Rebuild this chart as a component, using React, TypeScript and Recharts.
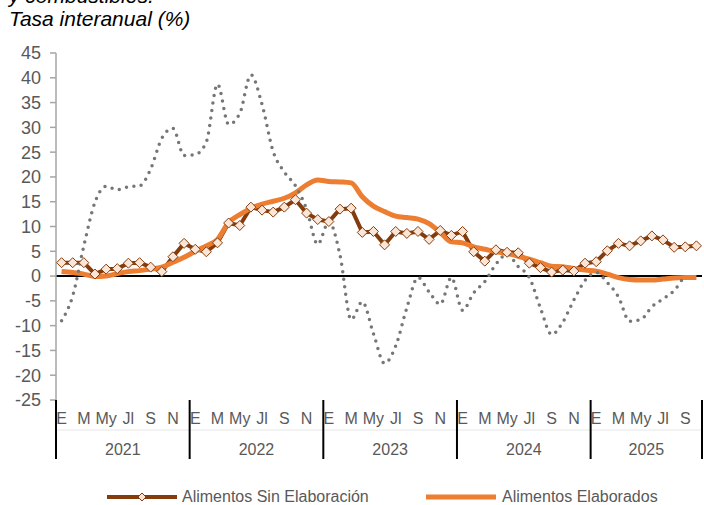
import { LineChart, Line, XAxis, YAxis, ReferenceLine } from "recharts"

const years = [2021, 2022, 2023, 2024, 2025]
const monthsPerYear = [12, 12, 12, 12, 10]
const monthLabels = ["E", "F", "M", "A", "My", "Jn", "Jl", "Ag", "S", "O", "N", "D"]
const yTicks = [-25, -20, -15, -10, -5, 0, 5, 10, 15, 20, 25, 30, 35, 40, 45]

const sinElaboracion = [
  2.7, 2.7, 2.7, 0.4, 1.4, 1.5, 2.6, 2.7, 1.8, 0.9, 3.9, 6.6,
  5.4, 4.9, 6.7, 10.7, 10.2, 13.9, 13.3, 12.9, 13.9, 15.4, 12.7, 11.4,
  11.0, 13.5, 13.7, 8.8, 9.0, 6.3, 9.0, 8.6, 9.0, 7.4, 9.2, 8.2,
  9.0, 4.9, 3.0, 5.3, 4.8, 4.7, 2.6, 1.7, 0.8, 1.2, 1.0, 2.6,
  2.9, 5.1, 6.6, 6.1, 7.1, 8.1, 7.3, 5.8, 5.9, 6.1,
]

const elaborados = [
  0.9, 0.7, 0.4, -0.1, 0.0, 0.5, 0.9, 1.1, 1.4, 1.8, 2.8, 3.8,
  5.0, 6.1, 7.4, 10.8, 12.4, 13.7, 14.5, 15.1, 15.7, 16.8, 18.4, 19.4,
  19.1, 19.0, 18.8, 16.0, 14.1, 13.0, 12.1, 11.8, 11.5, 10.6, 8.8, 6.9,
  6.7, 5.9, 5.4, 4.9, 4.6, 4.0, 3.4, 2.7, 2.0, 1.9, 1.5, 1.2,
  1.0, 0.4, -0.3, -0.7, -0.8, -0.8, -0.6, -0.4, -0.3, -0.3,
]

// serie gris punteada (sin leyenda en el original)
const energia = [
  -9.0, -4.0, 6.1, 14.9, 18.1, 17.4, 18.0, 18.2, 21.6, 27.8, 29.8, 24.3,
  24.5, 27.1, 38.7, 30.6, 32.8, 40.6, 34.6, 25.1, 21.0, 18.2, 13.5, 6.4,
  11.0, 4.2, -8.8, -5.2, -11.6, -17.6, -14.1, -6.4, -0.3, -3.2, -5.7, -0.3,
  -6.9, -3.4, -1.1, 2.4, 4.4, 1.9, -0.3, -6.5, -11.8, -9.3, -4.8, -0.9,
  0.7, -1.3, -4.2, -9.1, -8.8, -6.2, -4.6, -2.9, 0.3, null,
]

const periods = years.flatMap((year, k) =>
  monthLabels.slice(0, monthsPerYear[k]).map((_, month) => ({ year, month }))
)

const data = periods.map((p, i) => ({
  key: `${monthLabels[p.month]}-${p.year}`,
  year: p.year,
  month: p.month,
  sin: sinElaboracion[i],
  elab: elaborados[i],
  ener: energia[i],
}))

const W = 704
const H = 505
const Y_AXIS_W = 56
const MARGIN = { top: 53, right: 2, bottom: 45, left: 0 }
const BAND = (W - Y_AXIS_W - MARGIN.left - MARGIN.right) / data.length

const BROWN = "#843c0c"
const ORANGE = "#ed7d31"
const GRAY = "#767676"
const TEXT = "#595959"
const FONT = "'Liberation Sans', Arial, sans-serif"

function diamondPoints(cx: number, cy: number, r: number) {
  return `${cx},${cy - r} ${cx + r},${cy} ${cx},${cy + r} ${cx - r},${cy}`
}

function renderDiamond(props: any) {
  const { cx, cy, index } = props
  if (cx == null || cy == null) return <g key={`d-${index}`} />
  return (
    <polygon
      key={`d-${index}`}
      points={diamondPoints(cx, cy, 5)}
      fill="#fbe5d6"
      stroke={BROWN}
      strokeWidth={1}
    />
  )
}

function PeriodTick(props: any) {
  const { x, y, index } = props
  const d = data[index]
  if (!d) return null
  const left = x - BAND / 2
  const k = years.indexOf(d.year)
  return (
    <g>
      {index === 0 && (
        <line x1={left} x2={left + BAND * data.length} y1={y + 30} y2={y + 30} stroke="#e6e6e6" strokeWidth={1} />
      )}
      {d.month % 2 === 0 && (
        <text x={x} y={y + 24} textAnchor="middle" fontSize={16} fill={TEXT} fontFamily={FONT}>
          {monthLabels[d.month]}
        </text>
      )}
      {d.month === 0 && (
        <>
          <line x1={left} x2={left} y1={y} y2={y + 59} stroke="#000" strokeWidth={2} />
          <text
            x={left + (BAND * monthsPerYear[k]) / 2}
            y={y + 55}
            textAnchor="middle"
            fontSize={16}
            fill={TEXT}
            fontFamily={FONT}
          >
            {d.year}
          </text>
        </>
      )}
      {index === data.length - 1 && (
        <line x1={x + BAND / 2} x2={x + BAND / 2} y1={y} y2={y + 59} stroke="#000" strokeWidth={2} />
      )}
    </g>
  )
}

export default function App() {
  return (
    <div style={{ position: "absolute", left: 0, top: 0, width: W, height: H, fontFamily: FONT, background: "#fff" }}>
      <div
        style={{
          position: "absolute",
          left: 9,
          top: -14.6,
          fontSize: 21,
          lineHeight: "22.7px",
          fontStyle: "italic",
          color: "#000",
          whiteSpace: "nowrap",
        }}
      >
        <div>y combustibles.</div>
        <div>Tasa interanual (%)</div>
      </div>

      <LineChart width={W} height={H} data={data} margin={MARGIN} style={{ position: "absolute", left: 0, top: 0 }}>
        <XAxis
          dataKey="key"
          interval={0}
          height={60}
          padding={{ left: BAND / 2, right: BAND / 2 }}
          axisLine={false}
          tickLine={false}
          tickSize={0}
          tickMargin={0}
          tick={<PeriodTick />}
        />
        <YAxis
          type="number"
          width={Y_AXIS_W}
          domain={[-25, 45]}
          ticks={yTicks}
          interval={0}
          axisLine={{ stroke: "#a6a6a6", strokeWidth: 1.5 }}
          tickLine={{ stroke: "#a6a6a6", strokeWidth: 1.5 }}
          tickSize={6}
          tickMargin={9}
          tick={{ fontSize: 18, fill: TEXT, fontFamily: FONT }}
        />
        <ReferenceLine y={0} stroke="#000" strokeWidth={2} />
        <Line
          dataKey="sin"
          type="linear"
          stroke={BROWN}
          strokeWidth={4}
          strokeLinejoin="round"
          dot={renderDiamond}
          isAnimationActive={false}
        />
        <Line
          dataKey="elab"
          type="monotone"
          stroke={ORANGE}
          strokeWidth={5}
          strokeLinejoin="round"
          dot={false}
          isAnimationActive={false}
        />
        <Line
          dataKey="ener"
          type="monotone"
          stroke={GRAY}
          strokeWidth={3.5}
          strokeDasharray="0 7.5"
          strokeLinecap="round"
          dot={false}
          legendType="none"
          isAnimationActive={false}
        />
      </LineChart>

      <div style={{ position: "absolute", left: 0, top: 487, width: W, height: 20, fontSize: 16, color: TEXT }}>
        <svg style={{ position: "absolute", left: 105, top: 0 }} width={74} height={20}>
          <line x1={2} x2={72} y1={10} y2={10} stroke={BROWN} strokeWidth={4} />
          <polygon points={diamondPoints(37, 10, 4)} fill="#fbe5d6" stroke={BROWN} strokeWidth={1} />
        </svg>
        <span style={{ position: "absolute", left: 182, top: 0, lineHeight: "20px", whiteSpace: "nowrap" }}>
          Alimentos Sin Elaboración
        </span>
        <svg style={{ position: "absolute", left: 424, top: 0 }} width={74} height={20}>
          <line x1={2} x2={72} y1={10} y2={10} stroke={ORANGE} strokeWidth={5} />
        </svg>
        <span style={{ position: "absolute", left: 502, top: 0, lineHeight: "20px", whiteSpace: "nowrap" }}>
          Alimentos Elaborados
        </span>
      </div>
    </div>
  )
}
